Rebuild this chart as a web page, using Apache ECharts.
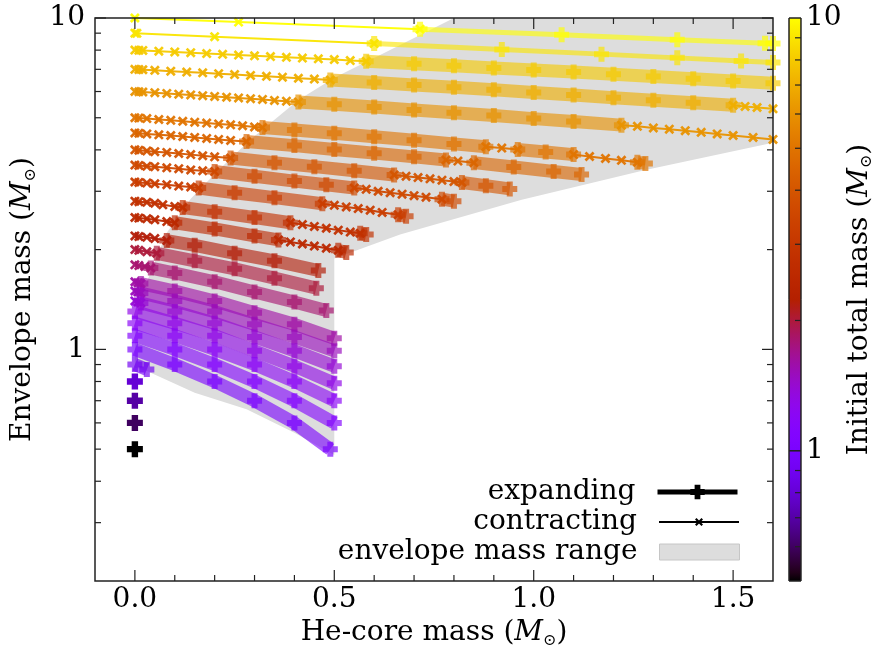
<!DOCTYPE html>
<html>
<head>
<meta charset="utf-8">
<script src="https://cdn.jsdelivr.net/npm/echarts@6/dist/echarts.min.js"></script>
<style>
  html, body { margin: 0; padding: 0; background: #fff; }
  #chart { width: 876px; height: 654px; }
</style>
</head>
<body>
<div id="chart"></div>
<script>
// ---------------------------------------------------------------------------
// Evolutionary tracks: He-core mass vs. envelope mass, coloured by the
// initial total mass. Each track is a list of segments; a segment starts with
// its phase ('c' = contracting, 'e' = expanding) followed by [core, envelope].
// ---------------------------------------------------------------------------
const FONT = '"DejaVu Serif", "Liberation Serif", serif';
const FS = 28;

const xRange = [-0.1, 1.6];
const yRange = [0.2, 10];
const colorRange = [0.5, 10];

const xTickMajor = [0, 0.5, 1.0, 1.5];
const xTickMinor = [0.1, 0.2, 0.3, 0.4, 0.6, 0.7, 0.8, 0.9, 1.1, 1.2, 1.3, 1.4];
const xTickLabels = [0, 0.5, 1.0, 1.5];
const yTickMajor = [1, 10];
const yTickMinor = [0.3, 0.4, 0.5, 0.6, 0.7, 0.8, 0.9, 2, 3, 4, 5, 6, 7, 8, 9];
const cbTickMajor = [1];
const cbTickMinor = [0.6, 0.7, 0.8, 0.9, 2, 3, 4, 5, 6, 7, 8, 9];

const track_10 = [
  ['c', [0, 10], [0.26, 9.72], [0.715, 9.25]],
  ['e', [0.715, 9.25], [1.07, 8.9], [1.36, 8.6], [1.58, 8.39], [1.6, 8.37]]
];
const track_9 = [
  ['c', [0, 9], [0.005, 8.99], [0.2, 8.78], [0.6, 8.37]],
  ['e', [0.6, 8.37], [0.92, 8.04], [1.17, 7.78], [1.36, 7.58], [1.52, 7.42], [1.6, 7.34]]
];
const track_8 = [
  ['c', [0, 8], [0.01, 7.99], [0.02, 7.98], [0.06, 7.94], [0.1, 7.9], [0.14, 7.86], [0.18, 7.81],
        [0.22, 7.77], [0.26, 7.73], [0.3, 7.69], [0.34, 7.65], [0.38, 7.61], [0.42, 7.57],
        [0.46, 7.53], [0.5, 7.49], [0.54, 7.44], [0.58, 7.4]],
  ['e', [0.58, 7.4], [0.7, 7.28], [0.8, 7.18], [0.9, 7.07], [1.0, 6.97], [1.1, 6.87], [1.2, 6.77],
        [1.3, 6.66], [1.4, 6.56], [1.5, 6.45], [1.6, 6.35]]
];
const track_7 = [
  ['c', [0, 7], [0.01, 6.99], [0.02, 6.98], [0.05, 6.95], [0.09, 6.91], [0.13, 6.87], [0.17, 6.83],
        [0.21, 6.79], [0.25, 6.75], [0.29, 6.71], [0.33, 6.67], [0.37, 6.63], [0.41, 6.58],
        [0.45, 6.54], [0.49, 6.5]],
  ['e', [0.49, 6.5], [0.6, 6.39], [0.7, 6.28], [0.8, 6.18], [0.9, 6.07], [1.0, 5.96], [1.1, 5.86],
        [1.2, 5.75], [1.3, 5.65], [1.4, 5.55], [1.5, 5.45]],
  ['c', [1.5, 5.45], [1.53, 5.41], [1.56, 5.37], [1.6, 5.32]]
];
const track_6 = [
  ['c', [0, 6], [0.01, 5.99], [0.02, 5.98], [0.05, 5.95], [0.08, 5.92], [0.11, 5.89], [0.14, 5.86],
        [0.17, 5.83], [0.2, 5.8], [0.23, 5.77], [0.26, 5.74], [0.29, 5.71], [0.32, 5.68],
        [0.35, 5.64], [0.38, 5.61], [0.41, 5.58]],
  ['e', [0.41, 5.58], [0.5, 5.49], [0.6, 5.39], [0.7, 5.28], [0.8, 5.18], [0.9, 5.08], [1.0, 4.97],
        [1.1, 4.87], [1.22, 4.75]],
  ['c', [1.22, 4.75], [1.26, 4.71], [1.3, 4.66], [1.34, 4.62], [1.38, 4.57], [1.42, 4.52],
        [1.46, 4.47], [1.5, 4.42], [1.55, 4.36], [1.6, 4.3]]
];
const track_5 = [
  ['c', [0, 5], [0.01, 4.99], [0.03, 4.97], [0.06, 4.94], [0.09, 4.91], [0.12, 4.88], [0.15, 4.85],
        [0.18, 4.82], [0.21, 4.79], [0.24, 4.76], [0.27, 4.73], [0.3, 4.69], [0.32, 4.67]],
  ['e', [0.32, 4.67], [0.4, 4.59], [0.5, 4.49], [0.6, 4.38], [0.7, 4.28], [0.8, 4.17], [0.88, 4.09]],
  ['c', [0.88, 4.09], [0.92, 4.05], [0.96, 4.01]],
  ['e', [0.96, 4.01], [1.03, 3.94], [1.1, 3.87]],
  ['c', [1.1, 3.87], [1.14, 3.82], [1.18, 3.77], [1.22, 3.72], [1.26, 3.67]],
  ['e', [1.26, 3.67], [1.28, 3.64]]
];
const track_4_5 = [
  ['c', [0, 4.5], [0.01, 4.49], [0.03, 4.47], [0.06, 4.44], [0.09, 4.42], [0.12, 4.39],
        [0.15, 4.36], [0.18, 4.33], [0.21, 4.3], [0.24, 4.27], [0.28, 4.24]],
  ['e', [0.28, 4.24], [0.4, 4.12], [0.5, 4.01], [0.6, 3.91], [0.7, 3.81], [0.78, 3.73]],
  ['c', [0.78, 3.73], [0.81, 3.7], [0.85, 3.66]],
  ['e', [0.85, 3.66], [0.95, 3.55], [1.05, 3.44], [1.12, 3.37]]
];
const track_4 = [
  ['c', [0, 4], [0.01, 3.99], [0.03, 3.97], [0.05, 3.95], [0.08, 3.93], [0.11, 3.9], [0.14, 3.87],
        [0.17, 3.84], [0.2, 3.81], [0.24, 3.78]],
  ['e', [0.24, 3.78], [0.35, 3.66], [0.45, 3.56], [0.55, 3.46], [0.65, 3.36]],
  ['c', [0.65, 3.36], [0.68, 3.33], [0.71, 3.3], [0.74, 3.27], [0.77, 3.24], [0.8, 3.21], [0.82, 3.19]],
  ['e', [0.82, 3.19], [0.88, 3.12], [0.94, 3.05]]
];
const track_3_6 = [
  ['c', [0, 3.6], [0.01, 3.59], [0.03, 3.57], [0.05, 3.56], [0.08, 3.53], [0.11, 3.51],
        [0.14, 3.48], [0.17, 3.46], [0.2, 3.44]],
  ['e', [0.2, 3.44], [0.3, 3.33], [0.4, 3.22], [0.48, 3.14], [0.55, 3.07]],
  ['c', [0.55, 3.07], [0.58, 3.04], [0.61, 3.0], [0.64, 2.97], [0.67, 2.94], [0.7, 2.91],
        [0.73, 2.88], [0.77, 2.84]],
  ['e', [0.77, 2.84], [0.8, 2.8]]
];
const track_3_2 = [
  ['c', [0, 3.2], [0.01, 3.19], [0.03, 3.18], [0.05, 3.16], [0.08, 3.14], [0.11, 3.11],
        [0.14, 3.09], [0.16, 3.07]],
  ['e', [0.16, 3.07], [0.25, 2.97], [0.35, 2.87], [0.47, 2.75]],
  ['c', [0.47, 2.75], [0.5, 2.72], [0.53, 2.69], [0.56, 2.66], [0.59, 2.63], [0.62, 2.59], [0.66, 2.55]],
  ['e', [0.66, 2.55], [0.68, 2.52]]
];
const track_2_8 = [
  ['c', [0, 2.8], [0.01, 2.79], [0.03, 2.78], [0.05, 2.76], [0.07, 2.73], [0.1, 2.7], [0.12, 2.68]],
  ['e', [0.12, 2.68], [0.2, 2.6], [0.3, 2.5], [0.39, 2.41]],
  ['c', [0.39, 2.41], [0.42, 2.38], [0.45, 2.35], [0.48, 2.32], [0.51, 2.29], [0.54, 2.26], [0.565, 2.24]],
  ['e', [0.565, 2.24], [0.58, 2.22]]
];
const track_2_5 = [
  ['c', [0, 2.5], [0.01, 2.49], [0.03, 2.48], [0.05, 2.46], [0.08, 2.43], [0.1, 2.41]],
  ['e', [0.1, 2.41], [0.2, 2.31], [0.3, 2.2], [0.36, 2.14]],
  ['c', [0.36, 2.14], [0.39, 2.11], [0.42, 2.08], [0.45, 2.05], [0.48, 2.02], [0.51, 1.99]],
  ['e', [0.51, 1.99], [0.53, 1.96]]
];
const track_2_2 = [
  ['c', [0, 2.2], [0.01, 2.19], [0.03, 2.18], [0.05, 2.16], [0.08, 2.13]],
  ['e', [0.08, 2.13], [0.15, 2.06], [0.25, 1.95], [0.35, 1.85], [0.46, 1.73]]
];
const track_2_0 = [
  ['c', [0, 2], [0.01, 1.99], [0.03, 1.97], [0.055, 1.95]],
  ['e', [0.055, 1.95], [0.15, 1.85], [0.25, 1.75], [0.35, 1.64], [0.455, 1.53]]
];
const track_1_8 = [
  ['c', [0, 1.8], [0.01, 1.79], [0.025, 1.78], [0.04, 1.76]],
  ['e', [0.04, 1.76], [0.1, 1.7], [0.2, 1.6], [0.3, 1.49], [0.4, 1.39], [0.48, 1.31]]
];
const track_1_6 = [
  ['c', [0, 1.6], [0.008, 1.59], [0.015, 1.58]],
  ['e', [0.015, 1.58], [0.1, 1.5], [0.2, 1.4], [0.3, 1.29], [0.4, 1.19], [0.5, 1.08]]
];
const track_1_5 = [
  ['c', [0, 1.5], [0.008, 1.49], [0.015, 1.48]],
  ['e', [0.015, 1.48], [0.1, 1.4], [0.2, 1.3], [0.3, 1.19], [0.4, 1.09], [0.5, 0.99]]
];
const track_1_4 = [
  ['c', [0, 1.4], [0.008, 1.39], [0.015, 1.38]],
  ['e', [0.015, 1.38], [0.1, 1.3], [0.2, 1.2], [0.3, 1.09], [0.4, 0.99], [0.5, 0.89]]
];
const track_1_3 = [['e', [0, 1.3], [0.1, 1.2], [0.2, 1.1], [0.3, 0.99], [0.4, 0.89], [0.5, 0.79]]];
const track_1_2 = [['e', [0, 1.2], [0.1, 1.1], [0.2, 1.0], [0.3, 0.9], [0.4, 0.8], [0.5, 0.7]]];
const track_1_1 = [['e', [0, 1.1], [0.1, 1.0], [0.2, 0.9], [0.3, 0.8], [0.4, 0.7], [0.5, 0.6]]];
const track_1_0 = [['e', [0, 1.0], [0.1, 0.9], [0.2, 0.8], [0.3, 0.7], [0.4, 0.6], [0.49, 0.5]]];
const track_0_9 = [['e', [0, 0.9], [0.03, 0.87]]];
const track_0_8 = [['e', [0, 0.8]]];
const track_0_7 = [['e', [0, 0.7]]];
const track_0_6 = [['e', [0, 0.6]]];
const track_0_5 = [['e', [0, 0.5]]];

const initialMass = [10, 9, 8, 7, 6, 5, 4.5, 4, 3.6, 3.2, 2.8, 2.5, 2.2, 2.0, 1.8,
                     1.6, 1.5, 1.4, 1.3, 1.2, 1.1, 1.0, 0.9, 0.8, 0.7, 0.6, 0.5];
const trackList = [track_10, track_9, track_8, track_7, track_6, track_5, track_4_5, track_4,
                   track_3_6, track_3_2, track_2_8, track_2_5, track_2_2, track_2_0, track_1_8,
                   track_1_6, track_1_5, track_1_4, track_1_3, track_1_2, track_1_1, track_1_0,
                   track_0_9, track_0_8, track_0_7, track_0_6, track_0_5];

// Outline of the envelope-mass range covered during expansion
const rangeCore = [0.0, 0.0, 0.013, 0.045, 0.08, 0.14, 0.21, 0.29, 0.41, 0.5, 0.64, 0.8,
                   1.6, 1.6, 1.28, 0.97, 0.665, 0.5, 0.5, 0.4, 0.28, 0.15, 0.03, 0.0];
const rangeEnv  = [0.9, 1.2, 1.41, 1.78, 2.25, 2.85, 3.48, 4.3, 5.66, 6.6, 8.0, 10,
                   10, 4.2, 3.48, 2.83, 2.22, 1.88, 0.48, 0.56, 0.66, 0.74, 0.86, 0.88];

// gnuplot-style "traditional pm3d" palette (rgbformulae 7,5,15)
function paletteAt(t) {
  t = Math.min(1, Math.max(0, t));
  const r = Math.sqrt(t), g = t * t * t, b = Math.max(0, Math.sin(2 * Math.PI * t));
  return 'rgb(' + Math.round(r * 255) + ',' + Math.round(g * 255) + ',' + Math.round(b * 255) + ')';
}
function massColor(m) {
  return paletteAt(Math.log(m / colorRange[0]) / Math.log(colorRange[1] / colorRange[0]));
}

const PLUS = 'path://M-1.2,-3L1.2,-3L1.2,-1.2L3,-1.2L3,1.2L1.2,1.2L1.2,3L-1.2,3L-1.2,1.2L-3,1.2L-3,-1.2L-1.2,-1.2Z';
const CROSS = 'path://M-1,-0.62L-0.62,-1L1,0.62L0.62,1ZM0.62,-1L1,-0.62L-0.62,1L-1,0.62Z';

const series = [];

// grey band: envelope mass range
series.push({
  type: 'custom',
  name: 'envelope mass range',
  coordinateSystem: 'cartesian2d',
  xAxisIndex: 0, yAxisIndex: 0,
  data: [[rangeCore[0], rangeEnv[0]]],
  itemStyle: { color: '#dddddd' },
  silent: true,
  z: 1,
  renderItem: function (params, api) {
    const pts = rangeCore.map(function (c, i) { return api.coord([c, rangeEnv[i]]); });
    return { type: 'polygon', shape: { points: pts }, style: { fill: '#dddddd' } };
  }
});

trackList.forEach(function (segs, k) {
  const m = initialMass[k];
  const col = massColor(m);
  const thin = m >= 9;
  segs.forEach(function (seg, j) {
    const pts = seg.slice(1);
    if (seg[0] === 'e') {
      const single = pts.length === 1;
      series.push({
        type: 'line', name: 'M' + m + '-e' + j, data: pts, clip: false, silent: true,
        symbol: PLUS, symbolSize: single ? 16 : 15,
        lineStyle: { color: col, width: thin ? 5 : 13, opacity: 0.62, cap: 'butt' },
        itemStyle: { color: col, opacity: single ? 1 : 0.68 },
        z: 2
      });
    } else {
      series.push({
        type: 'line', name: 'M' + m + '-c' + j, data: pts, clip: false, silent: true,
        symbol: CROSS, symbolSize: 10,
        lineStyle: { color: col, width: 2, opacity: 0.95 },
        itemStyle: { color: col, opacity: 0.95 },
        z: 3
      });
    }
  });
});

// legend-only entries
series.push({ type: 'line', name: 'expanding', data: [], symbol: PLUS, color: '#000',
              lineStyle: { width: 5, color: '#000' }, itemStyle: { color: '#000' } });
series.push({ type: 'line', name: 'contracting', data: [], symbol: CROSS, color: '#000',
              lineStyle: { width: 2, color: '#000' }, itemStyle: { color: '#000' } });

// colour bar
const cbStops = [];
for (let i = 0; i <= 64; i++) cbStops.push({ offset: i / 64, color: paletteAt(i / 64) });
series.push({
  type: 'custom', name: 'colorbar', coordinateSystem: 'cartesian2d',
  xAxisIndex: 1, yAxisIndex: 1, silent: true,
  data: [[0, colorRange[0]]],
  renderItem: function (params, api) {
    const p0 = api.coord([0, colorRange[1]]);
    const p1 = api.coord([1, colorRange[0]]);
    return {
      type: 'rect',
      shape: { x: p0[0], y: p0[1], width: p1[0] - p0[0], height: p1[1] - p0[1] },
      style: {
        fill: { type: 'linear', x: 0, y: 1, x2: 0, y2: 0, colorStops: cbStops },
        stroke: '#222', lineWidth: 1
      }
    };
  }
});

function decadeLabel(v) {
  const l = Math.log10(v);
  if (l > -1e-6 && Math.abs(l - Math.round(l)) < 1e-6) return String(Math.round(Math.pow(10, Math.round(l))));
  return '';
}

const nameRich = {
  t: { fontFamily: FONT, fontSize: FS, color: '#000' },
  i: { fontFamily: FONT, fontSize: FS, fontStyle: 'italic', color: '#000' },
  s: { fontFamily: FONT, fontSize: 16, color: '#000', padding: [15, 0, 0, 0] }
};

const legendText = { fontFamily: FONT, fontSize: FS, color: '#000', padding: [0, 17, 0, 0] };

const option = {
  animation: false,
  backgroundColor: '#fff',
  grid: [
    { left: 95, top: 18, width: 678, height: 563, show: false },
    { left: 789, top: 18, width: 34, height: 563, show: false }
  ],
  xAxis: [
    {
      gridIndex: 0, type: 'value', min: xRange[0], max: xRange[1],
      axisLine: { show: false }, axisTick: { show: false }, splitLine: { show: false },
      axisLabel: { customValues: xTickLabels, formatter: function (v) { return v.toFixed(1); },
                   fontFamily: FONT, fontSize: FS, color: '#000', margin: 5 },
      name: '{t|He-core mass (}{i|M}{s|⊙}{t|)}', nameLocation: 'middle', nameGap: 33,
      nameTextStyle: { rich: nameRich }
    },
    { gridIndex: 1, type: 'value', min: 0, max: 1, show: false }
  ],
  yAxis: [
    {
      gridIndex: 0, type: 'log', logBase: 10, min: yRange[0], max: yRange[1],
      axisLine: { show: false }, axisTick: { show: false }, splitLine: { show: false },
      axisLabel: { formatter: decadeLabel, fontFamily: FONT, fontSize: FS, color: '#000', margin: 10,
                   showMinLabel: false },
      name: '{t|Envelope mass (}{i|M}{s|⊙}{t|)}', nameLocation: 'middle', nameGap: 42,
      nameTextStyle: { rich: nameRich }
    },
    {
      gridIndex: 1, type: 'log', logBase: 10, min: colorRange[0], max: colorRange[1], position: 'right',
      axisLine: { show: false }, axisTick: { show: false }, splitLine: { show: false },
      axisLabel: { formatter: decadeLabel, fontFamily: FONT, fontSize: FS, color: '#000', margin: 5,
                   showMinLabel: false },
      name: '{t|Initial total mass (}{i|M}{s|⊙}{t|)}', nameLocation: 'middle', nameGap: 18,
      nameRotate: 90,
      nameTextStyle: { rich: nameRich }
    }
  ],
  legend: [
    { data: ['expanding'], right: 136, top: 478, orient: 'vertical', align: 'right', padding: 0,
      itemWidth: 80, itemHeight: 18, selectedMode: false, textStyle: legendText,
      lineStyle: { width: 5 } },
    { data: ['contracting'], right: 136, top: 508, orient: 'vertical', align: 'right', padding: 0,
      itemWidth: 80, itemHeight: 10, selectedMode: false, textStyle: legendText,
      lineStyle: { width: 2 } },
    { data: ['envelope mass range'], right: 136, top: 538, orient: 'vertical', align: 'right', padding: 0,
      itemWidth: 80, itemHeight: 16, icon: 'rect', selectedMode: false, textStyle: legendText,
      itemStyle: { color: '#dddddd', borderColor: '#c6c6c6', borderWidth: 1 } }
  ],
  series: series
};

const chart = echarts.init(document.getElementById('chart'), null, { renderer: 'canvas' });
chart.setOption(option);

// frame and tick marks, placed through the axes' own scales
(function addFrame() {
  const g = [];
  const stroke = '#222';
  function P(grid, x, y) { return chart.convertToPixel({ gridIndex: grid }, [x, y]); }
  function tick(p, dx, dy) {
    g.push({ type: 'line', silent: true, z: 100,
             shape: { x1: p[0], y1: p[1], x2: p[0] + dx, y2: p[1] + dy },
             style: { stroke: stroke, lineWidth: 1.2 } });
  }
  const MAJ = 11, MIN = 6;
  xTickMajor.forEach(function (v) { tick(P(0, v, yRange[0]), 0, -MAJ); tick(P(0, v, yRange[1]), 0, MAJ); });
  xTickMinor.forEach(function (v) { tick(P(0, v, yRange[0]), 0, -MIN); tick(P(0, v, yRange[1]), 0, MIN); });
  yTickMajor.forEach(function (v) { tick(P(0, xRange[0], v), MAJ, 0); tick(P(0, xRange[1], v), -MAJ, 0); });
  yTickMinor.forEach(function (v) { tick(P(0, xRange[0], v), MIN, 0); tick(P(0, xRange[1], v), -MIN, 0); });
  cbTickMajor.forEach(function (v) { tick(P(1, 0, v), 12, 0); tick(P(1, 1, v), -12, 0); });
  cbTickMinor.forEach(function (v) { tick(P(1, 1, v), -MIN, 0); });
  const a = P(0, xRange[0], yRange[1]), b = P(0, xRange[1], yRange[0]);
  g.push({ type: 'rect', silent: true, z: 100,
           shape: { x: a[0], y: a[1], width: b[0] - a[0], height: b[1] - a[1] },
           style: { fill: 'none', stroke: stroke, lineWidth: 1.5 } });
  chart.setOption({ graphic: g });
})();
</script>
</body>
</html>
